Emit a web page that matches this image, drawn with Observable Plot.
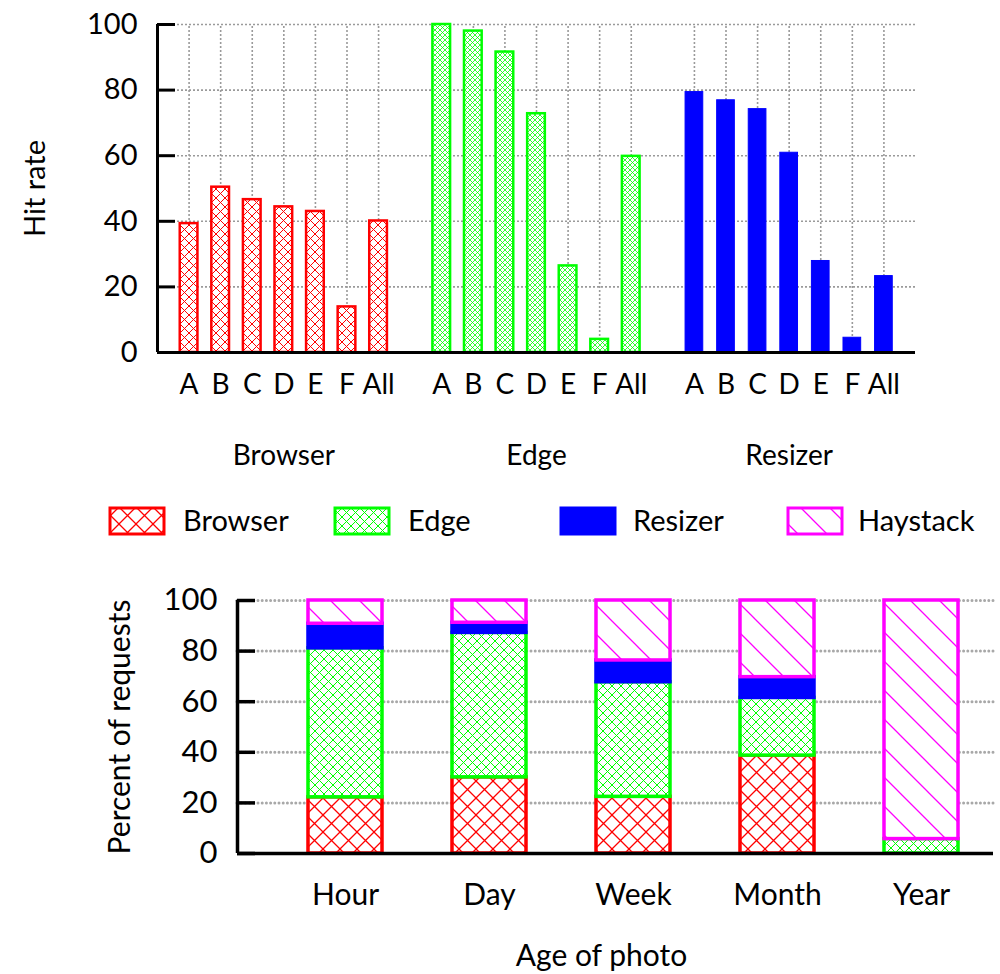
<!DOCTYPE html>
<html><head><meta charset="utf-8">
<script src="https://cdn.jsdelivr.net/npm/d3@7"></script>
<script src="https://cdn.jsdelivr.net/npm/@observablehq/plot@0.6"></script>
<style>
body{margin:0;background:#fff;font-family:Lato,"Open Sans",sans-serif;}
#wrap{position:relative;width:1000px;height:974px;overflow:hidden}
#top{position:absolute;left:0;top:0}
#legend{position:absolute;left:0;top:490px}
#bottom{position:absolute;left:0;top:560px}
</style></head><body>
<svg width="0" height="0" style="position:absolute">
<defs>
<pattern id="pBT" patternUnits="userSpaceOnUse" width="9" height="9"><rect width="9" height="9" fill="#fff"/><path d="M0,0L9,9M9,0L0,9" stroke="#ff0000" stroke-width="1"/></pattern>
<pattern id="pET" patternUnits="userSpaceOnUse" width="5" height="5"><rect width="5" height="5" fill="#fff"/><path d="M0,0L5,5M5,0L0,5" stroke="#00ff00" stroke-width="0.8"/></pattern>
<pattern id="pBB" patternUnits="userSpaceOnUse" width="17" height="17"><rect width="17" height="17" fill="#fff"/><path d="M0,0L17,17M17,0L0,17" stroke="#ff0000" stroke-width="1.3"/></pattern>
<pattern id="pEB" patternUnits="userSpaceOnUse" width="9" height="9"><rect width="9" height="9" fill="#fff"/><path d="M0,0L9,9M9,0L0,9" stroke="#00ff00" stroke-width="1"/></pattern>
<pattern id="pH" patternUnits="userSpaceOnUse" width="29" height="29"><rect width="29" height="29" fill="#fff"/><path d="M0,0L29,29M-3,26L3,32M26,-3L32,3" stroke="#ff00ff" stroke-width="1.3"/></pattern>
</defs></svg>
<div id="wrap"><div id="top"></div><div id="legend"></div><div id="bottom"></div></div>
<script>
// ---------- data ----------
const groups = ["Browser", "Edge", "Resizer"];
const cacheLabels = ["A", "B", "C", "D", "E", "F", "All"];
const browserHit = [39.3, 50.4, 46.6, 44.4, 43.0, 13.9, 40.1];
const edgeHit = [100, 98, 91.6, 72.8, 26.4, 4.0, 59.8];
const resizerHit = [79.4, 76.9, 74.2, 60.9, 27.9, 4.5, 23.3];
const hitTicks = [0, 20, 40, 60, 80, 100];

const ages = ["Hour", "Day", "Week", "Month", "Year"];
const layers = ["Browser", "Edge", "Resizer", "Haystack"];
const browserPct = [22.2, 30.1, 22.4, 38.7, 0];
const edgePct = [58.9, 57.1, 45.3, 22.8, 5.7];
const resizerPct = [9.7, 4.0, 8.6, 8.2, 0];
const haystackPct = [9.2, 8.8, 23.7, 30.3, 94.3];
const pctTicks = [0, 20, 40, 60, 80, 100];

const RED = "#ff0000", GREEN = "#00ff00", BLUE = "#0000ff", MAG = "#ff00ff";
const FONT = "Lato, 'Open Sans', sans-serif";

// ---------- top chart ----------
const hitSeries = [browserHit, edgeHit, resizerHit];
const slotsPerGroup = cacheLabels.length + 1;
const hitRows = [];
groups.forEach((g, gi) => hitSeries[gi].forEach((v, li) => hitRows.push({group: g, label: cacheLabels[li], slot: gi * slotsPerGroup + li, value: v})));
const topX = [-1, groups.length * slotsPerGroup - 1];
const halfBar = 0.28;
const topStyle = {
  Browser: {fill: "url(#pBT)", stroke: RED, strokeWidth: 2.5},
  Edge: {fill: "url(#pET)", stroke: GREEN, strokeWidth: 2.5},
  Resizer: {fill: BLUE, stroke: BLUE, strokeWidth: 1}
};
const grid = {stroke: "#9a9a9a", strokeWidth: 1.6, strokeDasharray: "2,2"};

const topPlot = Plot.plot({
  width: 1000, height: 480,
  marginTop: 24, marginBottom: 128, marginLeft: 157, marginRight: 85,
  x: {domain: topX, axis: null},
  y: {domain: [0, 100], axis: null},
  style: {fontFamily: FONT, fontSize: "28px", color: "#000", background: "transparent"},
  marks: [
    Plot.ruleY(hitTicks.filter(t => t > 0), grid),
    Plot.ruleX(hitRows, {x: "slot", y1: 0, y2: 100, ...grid}),
    ...groups.map(g => Plot.rectY(hitRows.filter(d => d.group === g), {
      x1: d => d.slot - halfBar, x2: d => d.slot + halfBar, y1: 0, y2: "value", ...topStyle[g]
    })),
    Plot.ruleY([0], {stroke: "#000", strokeWidth: 3}),
    Plot.ruleX([topX[0]], {y1: 0, y2: 100, stroke: "#000", strokeWidth: 3}),
    Plot.axisY({ticks: hitTicks, tickSize: -18, tickPadding: 38, strokeWidth: 3, label: null, fontSize: 29}),
    Plot.axisX({ticks: hitRows.map(d => d.slot), tickFormat: s => cacheLabels[s % slotsPerGroup], tickSize: 0, tickPadding: 22, label: null, fontSize: 28}),
    Plot.axisX({ticks: groups.map((g, gi) => gi * slotsPerGroup + 3), tickFormat: s => groups[Math.floor(s / slotsPerGroup)], tickSize: 0, tickPadding: 93, label: null, fontSize: 28}),
    Plot.text(["Hit rate"], {frameAnchor: "left", textAnchor: "middle", rotate: -90, dx: -122, fontSize: 29})
  ]
});
document.getElementById("top").append(topPlot);

// ---------- legend ----------
const legendItems = [
  {name: layers[0], fill: "url(#pBB)", stroke: RED, sx: 110, tx: 183},
  {name: layers[1], fill: "url(#pEB)", stroke: GREEN, sx: 335, tx: 408},
  {name: layers[2], fill: BLUE, stroke: BLUE, sx: 561, tx: 633},
  {name: layers[3], fill: "url(#pH)", stroke: MAG, sx: 788, tx: 858}
];
const lg = d3.select("#legend").append("svg").attr("width", 1000).attr("height", 60);
legendItems.forEach(it => {
  lg.append("rect").attr("x", it.sx).attr("y", 18).attr("width", 54).attr("height", 26)
    .attr("fill", it.fill).attr("stroke", it.stroke).attr("stroke-width", 3);
  lg.append("text").attr("x", it.tx).attr("y", 41).attr("font-family", FONT).attr("font-size", 29)
    .attr("fill", "#000").text(it.name);
});

// ---------- bottom chart ----------
const pctSeries = [browserPct, edgePct, resizerPct, haystackPct];
const stackRows = [];
ages.forEach((a, ai) => {
  let base = 0;
  layers.forEach((l, k) => {
    const v = pctSeries[k][ai];
    if (v > 0) stackRows.push({age: a, i: ai, layer: l, y1: base, y2: base + v});
    base += v;
  });
});
const botX = [-0.75, 4.5];
const halfCol = 0.257;
const botStyle = {
  Browser: {fill: "url(#pBB)", stroke: RED},
  Edge: {fill: "url(#pEB)", stroke: GREEN},
  Resizer: {fill: BLUE, stroke: BLUE},
  Haystack: {fill: "url(#pH)", stroke: MAG}
};
const grid2 = {stroke: "#a8a8a8", strokeWidth: 3, strokeDasharray: "0,4.2", strokeLinecap: "round"};

const botPlot = Plot.plot({
  width: 1000, height: 414,
  marginTop: 40, marginBottom: 121, marginLeft: 237, marginRight: 7,
  x: {domain: botX, axis: null},
  y: {domain: [0, 100], axis: null},
  style: {fontFamily: FONT, fontSize: "30px", color: "#000", background: "transparent"},
  marks: [
    Plot.ruleY(pctTicks.filter(t => t > 0), grid2),
    ...layers.map(l => Plot.rectY(stackRows.filter(d => d.layer === l), {
      x1: d => d.i - halfCol, x2: d => d.i + halfCol, y1: "y1", y2: "y2", strokeWidth: 3.5, ...botStyle[l]
    })),
    Plot.ruleY([0], {stroke: "#000", strokeWidth: 3.5}),
    Plot.ruleX([botX[0]], {y1: 0, y2: 100, stroke: "#000", strokeWidth: 3.5}),
    Plot.axisY({ticks: pctTicks, tickSize: -18, tickPadding: 38, strokeWidth: 3.5, label: null, fontSize: 31}),
    Plot.axisX({ticks: ages.map((a, i) => i), tickFormat: i => ages[i], tickSize: 0, tickPadding: 30, label: null, fontSize: 30}),
    Plot.text(["Age of photo"], {frameAnchor: "bottom", dy: 112, dx: -14, fontSize: 30}),
    Plot.text(["Percent of requests"], {frameAnchor: "left", textAnchor: "middle", rotate: -90, dx: -117, fontSize: 30})
  ]
});
document.getElementById("bottom").append(botPlot);
</script>
</body></html>
